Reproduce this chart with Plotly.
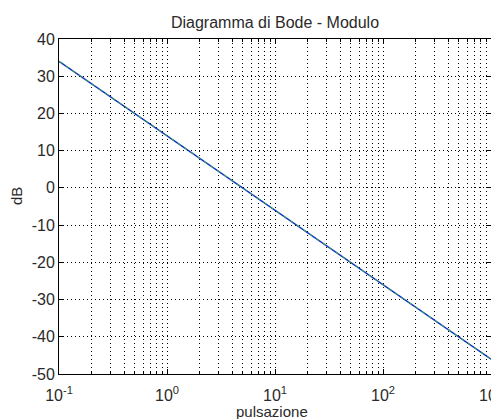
import plotly.graph_objects as go

# data
omega = [0.1, 1, 10, 100, 1000]
mod_db = [34, 14, -6, -26, -46]
mod_db_asym = [34, 14, -6, -26, -46]

xtick_vals = [0.1, 1, 10, 100, 1000]
xtick_text = ["10<sup>-1</sup>", "10<sup>0</sup>", "10<sup>1</sup>", "10<sup>2</sup>", "10<sup>3</sup>"]
ytick_vals = [40, 30, 20, 10, 0, -10, -20, -30, -40, -50]
ytick_text = ["40", "30", "20", "10", "0", "-10", "-20", "-30", "-40", "-50"]

# page body has an 8px margin: figure sits at (8, 8)
OFF = 8
W, H = 499 - OFF, 419 - OFF
L, T = 59 - OFF, 39 - OFF
R = W - (491 - OFF)
B = H - (374 - OFF)
PW, PH = W - L - R, H - T - B


def px(xp):
    return (xp - OFF - L) / PW


def py(yp):
    return (H - B - (yp - OFF)) / PH


fig = go.Figure()
fig.add_trace(go.Scatter(x=omega, y=mod_db, mode="lines",
                         line=dict(color="#1030d0", width=1.4), showlegend=False))
fig.add_trace(go.Scatter(x=omega, y=mod_db_asym, mode="lines",
                         line=dict(color="#30b030", width=1, dash="4px,4px"), showlegend=False))

txt = "#2a2a2a"
font = dict(family="Liberation Sans, Arial, sans-serif", size=15, color=txt)
dot = "1px,3px"

fig.update_layout(
    width=W, height=H,
    margin=dict(l=L, r=R, t=T, b=B),
    paper_bgcolor="white", plot_bgcolor="white",
    font=font,
    title=dict(text="Diagramma di Bode - Modulo", x=(275 - OFF) / W, xanchor="center",
               y=1 - (22 - OFF) / H, yanchor="middle", font=dict(size=16, color=txt)),
    annotations=[
        dict(text="pulsazione", xref="paper", yref="paper",
             x=px(272), y=py(411),
             xanchor="center", yanchor="middle", showarrow=False,
             font=dict(size=15, color=txt)),
        dict(text="dB", xref="paper", yref="paper",
             x=px(17), y=py(196),
             xanchor="center", yanchor="middle", showarrow=False, textangle=-90,
             font=dict(size=15, color=txt)),
    ],
)
fig.update_xaxes(
    type="log", range=[-1, 3], automargin=False,
    tickvals=xtick_vals, ticktext=xtick_text, ticklabeloverflow="allow",
    ticklabelstandoff=7,
    showline=True, linecolor="black", linewidth=1, mirror="ticks",
    ticks="inside", ticklen=5, tickcolor="black",
    showgrid=True, gridcolor="black", griddash=dot, gridwidth=1,
    minor=dict(dtick="D1", ticks="inside", ticklen=3, tickcolor="black",
               showgrid=True, gridcolor="black", griddash=dot, gridwidth=1),
    zeroline=False,
    tickfont=dict(size=16, color=txt),
)
fig.update_yaxes(
    range=[-50, 40], tickvals=ytick_vals, ticktext=ytick_text, automargin=False,
    showline=True, linecolor="black", linewidth=1, mirror="ticks",
    ticks="inside", ticklen=5, tickcolor="black",
    showgrid=True, gridcolor="black", griddash=dot, gridwidth=1,
    zeroline=False,
    tickfont=dict(size=16, color=txt),
)

fig.write_html("out.html")
